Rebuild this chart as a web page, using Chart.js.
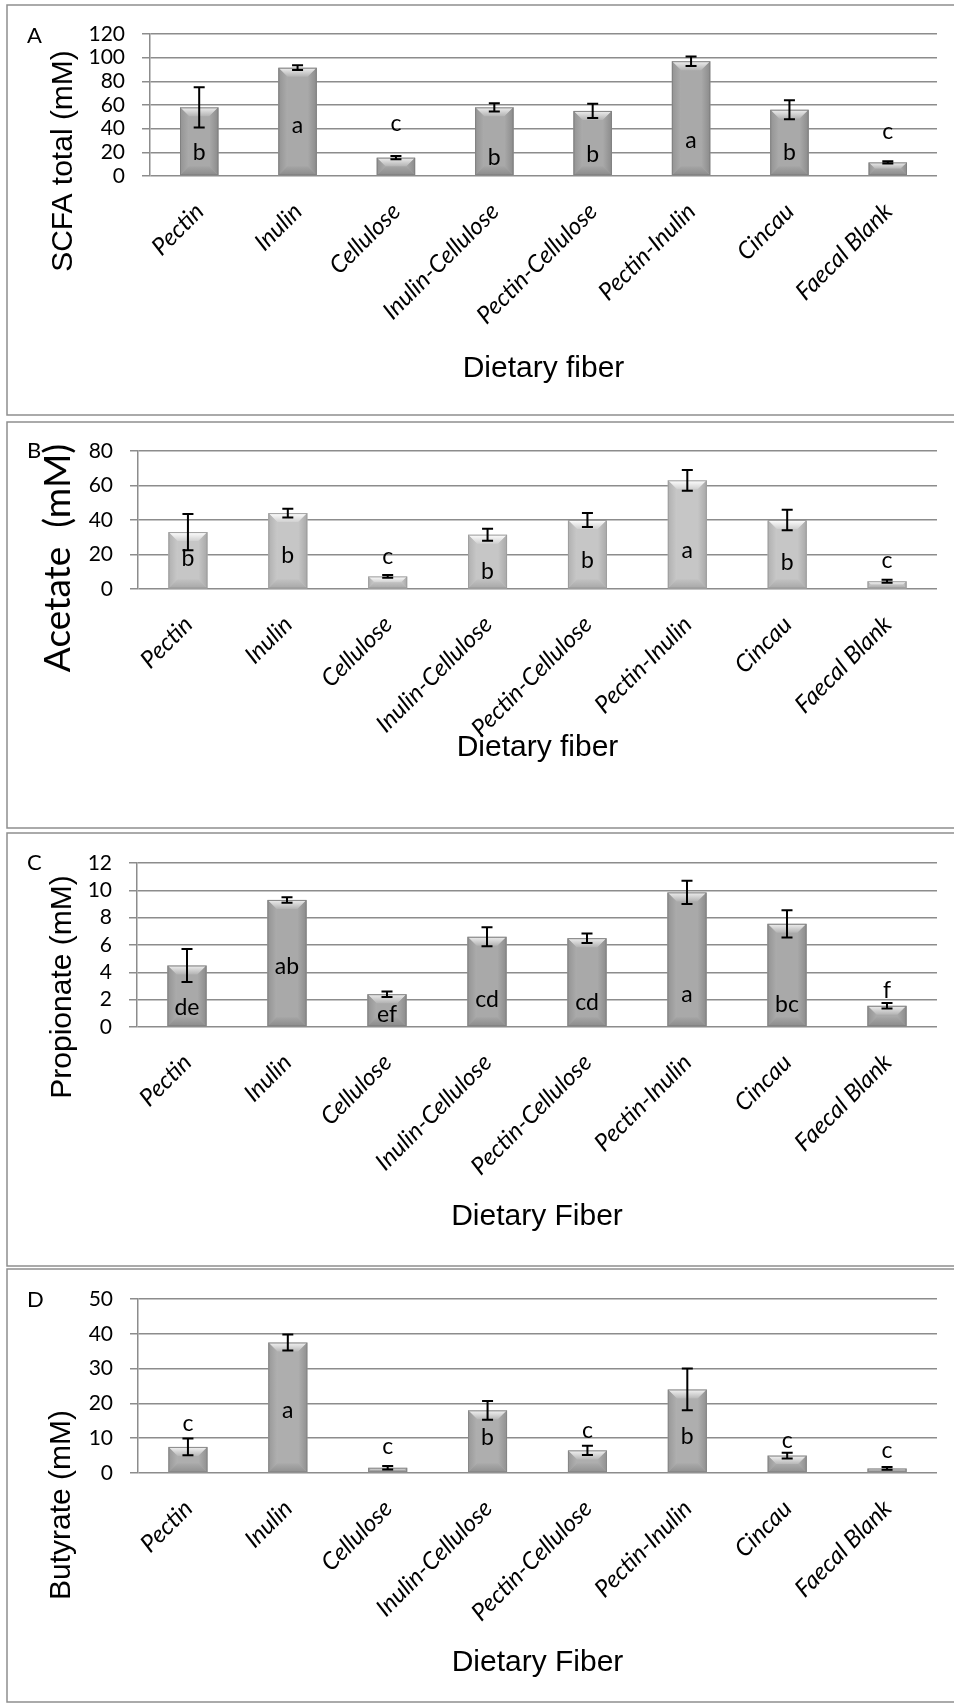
<!DOCTYPE html>
<html>
<head>
<meta charset="utf-8">
<title>SCFA production by dietary fiber</title>
<script src="https://cdn.jsdelivr.net/npm/chart.js@4.4.1/dist/chart.umd.min.js"></script>
<style>
  html, body { margin: 0; padding: 0; background: #fff; }
  #page { position: relative; width: 954px; height: 1704px; overflow: hidden; }
  #page canvas { position: absolute; left: 0; }
</style>
</head>
<body>
<div id="page">
  <canvas id="chartA"></canvas>
  <canvas id="chartB"></canvas>
  <canvas id="chartC"></canvas>
  <canvas id="chartD"></canvas>
</div>
<script>
// Categories (x axis)
const categories = ['Pectin', 'Inulin', 'Cellulose', 'Inulin-Cellulose', 'Pectin-Cellulose', 'Pectin-Inulin', 'Cincau', 'Faecal Blank'];

// A - SCFA total (mM)
const scfaTotal      = [58, 91.5, 15.5, 58, 55, 97, 56, 11.5];
const scfaTotalErr   = [17, 2, 1.3, 3.5, 6, 4, 8, 1];
const scfaTotalSig   = ['b', 'a', 'c', 'b', 'b', 'a', 'b', 'c'];
const scfaTotalSigAt = [13.5, 36.6, 38.3, 9.3, 12.1, 23.9, 13.5, 31];
const scfaTotalTicks = [0, 20, 40, 60, 80, 100, 120];

// B - Acetate (mM)
const acetate      = [33, 44, 7.3, 31.5, 40, 63, 40, 4.5];
const acetateErr   = [10.5, 2.5, 0.8, 3.5, 4, 6, 6, 0.9];
const acetateSig   = ['b', 'b', 'c', 'b', 'b', 'a', 'b', 'c'];
const acetateSigAt = [13.3, 14.9, 14.5, 5.6, 12, 17.8, 11, 12];
const acetateTicks = [0, 20, 40, 60, 80];

// C - Propionate (mM)
const propionate      = [4.5, 9.3, 2.4, 6.6, 6.5, 9.85, 7.55, 1.55];
const propionateErr   = [1.2, 0.2, 0.2, 0.7, 0.35, 0.85, 1.0, 0.2];
const propionateSig   = ['de', 'ab', 'ef', 'cd', 'cd', 'a', 'bc', 'f'];
const propionateSigAt = [0.88, 3.85, 0.4, 1.5, 1.25, 1.8, 1.1, 2.1];
const propionateTicks = [0, 2, 4, 6, 8, 10, 12];

// D - Butyrate (mM)
const butyrate      = [7.5, 37.5, 1.5, 18, 6.5, 24, 5, 1.3];
const butyrateErr   = [2.4, 2.3, 0.5, 2.7, 1.3, 6, 0.8, 0.4];
const butyrateSig   = ['c', 'a', 'c', 'b', 'c', 'b', 'c', 'c'];
const butyrateSigAt = [12.1, 15.7, 5.4, 8, 10.2, 8.2, 7.3, 4.4];
const butyrateTicks = [0, 10, 20, 30, 40, 50];

const GRID = '#8c8c8c';
const PLOT_RIGHT = 937;

// lighten / darken a #rrggbb colour
function shade(hex, amt) {
    const n = parseInt(hex.slice(1), 16);
    const f = c => Math.max(0, Math.min(255, Math.round(c + amt)));
    const r = f(n >> 16), g = f((n >> 8) & 255), b = f(n & 255);
    return 'rgb(' + r + ',' + g + ',' + b + ')';
}

// frame around each panel (left, top, bottom; the right edge is cut off)
const framePlugin = {
    id: 'frame',
    beforeDraw(chart) {
        const ctx = chart.ctx;
        const h = chart.height;
        ctx.save();
        ctx.strokeStyle = '#8f8f8f';
        ctx.lineWidth = 1.5;
        ctx.beginPath();
        ctx.moveTo(960, 1);
        ctx.lineTo(7, 1);
        ctx.lineTo(7, h - 1);
        ctx.lineTo(960, h - 1);
        ctx.stroke();
        ctx.restore();
    }
};

// bevelled bars, error bars and significance letters
const barExtras = {
    id: 'barExtras',
    afterDatasetsDraw(chart, args, o) {
        const ctx = chart.ctx;
        const yScale = chart.scales.y;
        const ds = chart.data.datasets[0];
        const base = o.color;
        chart.getDatasetMeta(0).data.forEach((bar, i) => {
            const p = bar.getProps(['x', 'y', 'base', 'width'], true);
            const l = p.x - p.width / 2, r = p.x + p.width / 2, t = p.y, b = p.base;
            const d = Math.min(9, (b - t) / 2);
            ctx.save();
            // top facet
            let g = ctx.createLinearGradient(0, t, 0, t + d);
            g.addColorStop(0, shade(base, 70));
            g.addColorStop(1, shade(base, 10));
            ctx.fillStyle = g;
            ctx.beginPath();
            ctx.moveTo(l, t); ctx.lineTo(r, t); ctx.lineTo(r - d, t + d); ctx.lineTo(l + d, t + d);
            ctx.closePath(); ctx.fill();
            // left facet
            g = ctx.createLinearGradient(l, 0, l + d, 0);
            g.addColorStop(0, shade(base, -22));
            g.addColorStop(1, shade(base, 2));
            ctx.fillStyle = g;
            ctx.beginPath();
            ctx.moveTo(l, t); ctx.lineTo(l + d, t + d); ctx.lineTo(l + d, b - d); ctx.lineTo(l, b);
            ctx.closePath(); ctx.fill();
            // right facet
            g = ctx.createLinearGradient(r, 0, r - d, 0);
            g.addColorStop(0, shade(base, -30));
            g.addColorStop(1, shade(base, 0));
            ctx.fillStyle = g;
            ctx.beginPath();
            ctx.moveTo(r, t); ctx.lineTo(r - d, t + d); ctx.lineTo(r - d, b - d); ctx.lineTo(r, b);
            ctx.closePath(); ctx.fill();
            // bottom facet
            g = ctx.createLinearGradient(0, b, 0, b - d);
            g.addColorStop(0, shade(base, -30));
            g.addColorStop(1, shade(base, -4));
            ctx.fillStyle = g;
            ctx.beginPath();
            ctx.moveTo(l, b); ctx.lineTo(r, b); ctx.lineTo(r - d, b - d); ctx.lineTo(l + d, b - d);
            ctx.closePath(); ctx.fill();
            // outline
            ctx.strokeStyle = shade(base, -40);
            ctx.lineWidth = 1;
            ctx.strokeRect(l + 0.5, t + 0.5, r - l - 1, b - t - 1);
            ctx.restore();

            // error bar
            const v = ds.data[i], e = o.errors[i];
            const yHi = yScale.getPixelForValue(v + e);
            const yLo = yScale.getPixelForValue(v - e);
            ctx.save();
            ctx.strokeStyle = '#000';
            ctx.lineWidth = 2;
            ctx.beginPath();
            ctx.moveTo(p.x, yHi); ctx.lineTo(p.x, yLo);
            ctx.moveTo(p.x - 5.5, yHi); ctx.lineTo(p.x + 5.5, yHi);
            ctx.moveTo(p.x - 5.5, yLo); ctx.lineTo(p.x + 5.5, yLo);
            ctx.stroke();
            ctx.restore();

            // significance letter
            ctx.save();
            ctx.fillStyle = '#000';
            ctx.font = '23px Lato';
            ctx.textAlign = 'center';
            ctx.textBaseline = 'alphabetic';
            ctx.fillText(o.letters[i], p.x, yScale.getPixelForValue(o.letterAt[i]));
            ctx.restore();
        });
    }
};

// category labels, slanted at 45 degrees under each tick of the x scale
const slantLabels = {
    id: 'slantLabels',
    afterDraw(chart) {
        const ctx = chart.ctx;
        const xScale = chart.scales.x;
        ctx.save();
        ctx.fillStyle = '#000';
        ctx.font = 'italic 24px Lato';
        ctx.textAlign = 'right';
        ctx.textBaseline = 'alphabetic';
        xScale.ticks.forEach((tick, i) => {
            const x = xScale.getPixelForTick(i);
            ctx.save();
            ctx.translate(x + 6, xScale.top + 37);
            ctx.rotate(-Math.PI / 4);
            ctx.fillText(xScale.getLabelForValue(tick.value), 0, 0);
            ctx.restore();
        });
        ctx.restore();
    }
};

// panel letter and rotated y axis title
const panelText = {
    id: 'panelText',
    afterDraw(chart, args, o) {
        const ctx = chart.ctx;
        ctx.save();
        ctx.fillStyle = '#000';
        ctx.font = '22px Lato';
        ctx.textAlign = 'left';
        ctx.textBaseline = 'alphabetic';
        ctx.fillText(o.letter, 27, o.letterY);
        ctx.translate(o.titleX, o.titleY);
        ctx.rotate(-Math.PI / 2);
        ctx.font = o.titleFont;
        ctx.textAlign = 'center';
        ctx.fillText(o.title, 0, 0);
        ctx.restore();
    }
};

function makePanel(p) {
    const el = document.getElementById(p.id);
    const top = p.boxTop - 1;
    const h = p.boxBottom - p.boxTop + 2;
    el.width = 954;
    el.height = h;
    el.style.top = top + 'px';
    const yTicks = p.ticks;

    new Chart(el, {
        type: 'bar',
        data: {
            labels: categories,
            datasets: [{
                data: p.values,
                backgroundColor: p.color,
                borderWidth: 0,
                categoryPercentage: 1,
                barPercentage: 0.39
            }]
        },
        options: {
            responsive: false,
            animation: false,
            devicePixelRatio: 1,
            layout: {
                padding: { left: 0, right: 954 - PLOT_RIGHT, top: p.plotTop - top, bottom: 0 }
            },
            plugins: {
                legend: { display: false },
                tooltip: { enabled: false },
                barExtras: { color: p.color, errors: p.errors, letters: p.letters, letterAt: p.letterAt },
                panelText: {
                    letter: p.letter, letterY: p.letterY - top,
                    title: p.yTitle, titleFont: p.yTitleFont,
                    titleX: p.yTitleX, titleY: p.yTitleY - top
                }
            },
            scales: {
                x: {
                    grid: { display: false, drawTicks: false },
                    border: { display: false },
                    ticks: { display: false, autoSkip: false },
                    title: {
                        display: true,
                        text: p.xTitle,
                        color: '#000',
                        font: { family: 'Liberation Sans', size: 30, lineHeight: 1.2 },
                        padding: { top: 0, bottom: h - (p.xTitleY - top) - 18 }
                    },
                    afterFit: s => { s.height = h - (p.plotBottom - top); }
                },
                y: {
                    min: yTicks[0],
                    max: yTicks[yTicks.length - 1],
                    afterBuildTicks: s => { s.ticks = yTicks.map(v => ({ value: v })); },
                    grid: { color: GRID, lineWidth: 1.5, tickLength: 8, drawTicks: true },
                    border: { display: true, color: GRID, width: 1.5 },
                    ticks: {
                        autoSkip: false,
                        padding: 17,
                        color: '#000',
                        font: { family: 'Lato', size: 21 }
                    },
                    afterFit: s => { s.width = p.plotLeft; }
                }
            }
        },
        plugins: [framePlugin, barExtras, slantLabels, panelText]
    });
}

makePanel({
    id: 'chartA', letter: 'A', boxTop: 5, boxBottom: 415,
    plotLeft: 150, plotTop: 34, plotBottom: 176, xTitleY: 369, letterY: 43,
    yTitle: 'SCFA total (mM)', yTitleFont: '30px "Liberation Sans"', yTitleX: 72, yTitleY: 161,
    xTitle: 'Dietary fiber', color: '#a9a9a9',
    values: scfaTotal, errors: scfaTotalErr, letters: scfaTotalSig, letterAt: scfaTotalSigAt, ticks: scfaTotalTicks
});

makePanel({
    id: 'chartB', letter: 'B', boxTop: 422, boxBottom: 828,
    plotLeft: 138, plotTop: 451, plotBottom: 589, xTitleY: 748, letterY: 458,
    yTitle: 'Acetate  (mM)', yTitleFont: '37px Lato', yTitleX: 70, yTitleY: 558,
    xTitle: 'Dietary fiber', color: '#c6c6c6',
    values: acetate, errors: acetateErr, letters: acetateSig, letterAt: acetateSigAt, ticks: acetateTicks
});

makePanel({
    id: 'chartC', letter: 'C', boxTop: 833, boxBottom: 1266,
    plotLeft: 137, plotTop: 863, plotBottom: 1027, xTitleY: 1217, letterY: 870,
    yTitle: 'Propionate (mM)', yTitleFont: '30px "Liberation Sans"', yTitleX: 71, yTitleY: 987,
    xTitle: 'Dietary Fiber', color: '#a9a9a9',
    values: propionate, errors: propionateErr, letters: propionateSig, letterAt: propionateSigAt, ticks: propionateTicks
});

makePanel({
    id: 'chartD', letter: 'D', boxTop: 1269, boxBottom: 1702,
    plotLeft: 138, plotTop: 1299, plotBottom: 1473, xTitleY: 1663, letterY: 1307,
    yTitle: 'Butyrate (mM)', yTitleFont: '30px "Liberation Sans"', yTitleX: 70, yTitleY: 1505,
    xTitle: 'Dietary Fiber', color: '#aeaeae',
    values: butyrate, errors: butyrateErr, letters: butyrateSig, letterAt: butyrateSigAt, ticks: butyrateTicks
});
</script>
</body>
</html>
